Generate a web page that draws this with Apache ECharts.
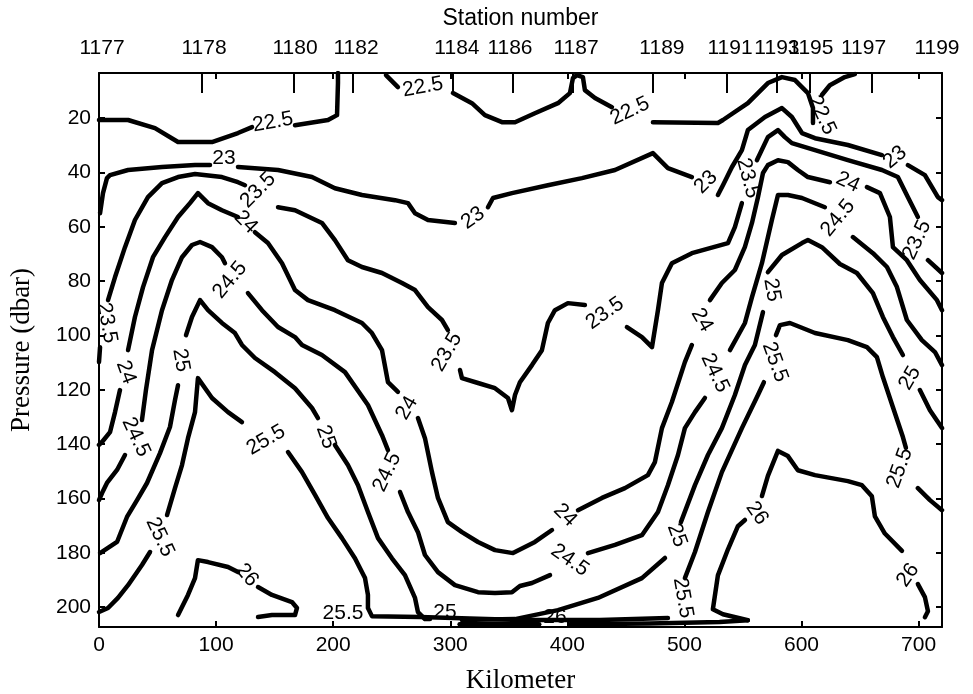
<!DOCTYPE html>
<html><head><meta charset="utf-8">
<script src="https://cdn.jsdelivr.net/npm/echarts@6/dist/echarts.min.js"></script>
<style>html,body{margin:0;padding:0;background:#fff}#chart{width:973px;height:694px}</style>
</head><body><div id="chart"></div>
<script>
// ---- axis data ----
const kmTicks = [0, 100, 200, 300, 400, 500, 600, 700];
const pressureTicks = [20, 40, 60, 80, 100, 120, 140, 160, 180, 200];
const stationNames = ['1177','1178','1180','1182','1184','1186','1187','1189','1191','1193','1195','1197','1199'];
const stationLabelKm = [2.6, 89.7, 167.4, 219.5, 305.7, 351, 407.4, 480.8, 539, 579, 608, 653, 715.7];
const stationTickKm = [0, 88, 166.5, 216.7, 302.3, 353.6, 405, 473.1, 536, 579, 607.2, 660.1, 720];

// ---- contour lines (km, dbar); each level is a list of segments ----
const c22_5 = [
  [[0,20.7],[24.8,20.7],[47.8,23.7],[67.5,28.8],[96.5,28.8],[118.7,25.5],[130.7,23.3]],
  [[167.4,22.6],[195.6,20.7],[203.3,18.9],[204.1,7.1],[204.1,3.4]],
  [[245.1,4.2],[255.3,8.6]],
  [[302.3,10.8],[318.5,14.5],[329.6,18.9],[344.2,21.5],[355.3,21.5],[372.3,18.2],[392,14.5],[402.2,10.8],[404.8,5.3],[408.2,4.2],[413.3,4.9],[415,9.7],[423.6,12.6],[438.1,16]],
  [[473.1,21.5],[528.6,21.8],[532.9,20.7],[554.2,14.5],[571.3,7.1],[583.3,4.9],[594.4,6],[605.5,10.8],[609.8,16.3],[609.8,21.8]],
  [[617.4,11.5],[624.2,7.9],[637,4.9],[645.6,3.8]]
];
const c23 = [
  [[0.9,55],[3.4,47.6],[6.8,42.1],[9.4,41],[24.8,39.1],[53.8,38],[82,37.3],[94.8,37.3]],
  [[118.7,38],[152.9,39.1],[181.9,41.7],[201.5,45.8],[224.6,48.3],[252.8,50.2],[263.9,51.3],[269.9,55],[281,57.5],[304,58.6]],
  [[332.2,52.8],[336.5,49.4],[352.7,47.6],[383.4,44.7],[412.5,42.1],[440.7,39.1],[473.1,32.9],[485.9,38.4],[506.4,41.7]],
  [[528.6,48.3],[532.9,44.7],[540.6,38],[549.1,31.8],[554.2,24.4],[568.8,19.6],[583.3,16.3],[591.8,19.6],[600.4,25.5],[611.5,27.4],[639.6,29.9],[668.7,33.6]],
  [[690.9,37.3],[705.4,41],[716.5,49.1],[720,50.2]]
];
const c23_5 = [
  [[0,109.8],[0.9,104.3]],
  [[7.7,87],[13.7,78.5],[22.2,67.5],[30.7,57.5],[41.8,49.1],[53.8,43.9],[67.5,41.7],[82,40.6],[105,41.7],[118.7,43.6],[124.7,44.7]],
  [[152.9,52.8],[167.4,53.9],[190.4,58.6],[201.5,64.9],[212.6,72.3],[224.6,74.8],[241.7,77],[258.8,80.7],[269.9,83.3],[281,89.6],[292.9,94.3],[298,98]],
  [[308.3,112.7],[310,115.7],[323.7,117.5],[338.2,119.4],[349.3,123],[352.7,127.5],[355.3,121.9],[359.5,117.2],[369.8,110.9],[378.3,105.4],[383.4,95.4],[389.4,90.7],[400.5,88.1],[415,88.8]],
  [[450.9,96.9],[463.7,100.6],[472.3,104.3],[477.4,90.7],[480.8,80.7],[489.3,73.4],[506.4,69.7],[537.2,66],[543.1,60.1],[549.1,51.3]],
  [[561.9,35.5],[571.3,27],[579.9,24.4],[585.8,27],[591.8,29.2],[611.5,31.8],[639.6,35.5],[668.7,39.1],[682.3,41.7],[690.9,49.1],[699.4,56.4]],
  [[708,72.3],[720,77]]
];
const c24 = [
  [[0,140.3],[2.6,139.2],[9.4,135.6],[13.7,128.2],[17.9,120.1]],
  [[24.8,105.4],[30.7,93.2],[37.6,82.2],[46.1,71.2],[56.4,63.8],[67.5,56.4],[77.7,51.3],[84.5,47.6],[93.1,51.3],[105,53.9],[118.7,56.4]],
  [[133.2,62],[144.3,66],[156.3,73.4],[167.4,83.3],[178.5,87],[201.5,90.7],[224.6,95.4],[233.1,99.1],[241.7,105.4],[246.8,117.2],[255.3,120.8]],
  [[272.4,130.4],[278.4,137.8],[284.4,150.3],[289.5,159.8],[298,168.7],[310,172.4],[323.7,176],[338.2,179],[353.6,180.1],[372.3,176],[386.9,171.6]],
  [[409.1,164.3],[429.6,159.8],[449.2,156.2],[468.8,151.4],[474.8,146.6],[480.8,134.1],[489.3,124.5],[500.4,109.8],[506.4,103.5]],
  [[521.8,87],[532,80.7],[543.1,75.9],[551.6,67.5],[557.7,58.6],[562.8,49.1],[567.1,40.2],[571.3,37.3],[579.9,35.5],[588.4,36.2],[596.9,39.1],[605.5,41.7],[624.3,43.6]],
  [[655.9,45.4],[667,47.6],[675.5,56.4],[678.1,67.5],[690,72.3],[701.1,79.6],[715.7,87],[720,90.7]]
];
const c24_5 = [
  [[0,160.6],[2.6,158],[6.8,154.3],[15.4,149.5],[22.2,144]],
  [[36.7,131.1],[40.1,120.1],[45.3,105.4],[53.8,90.7],[62.3,79.6],[70.9,71.2],[79.4,66.7],[86.3,65.6],[96.5,67.5],[105,71.2],[107.6,73.4]],
  [[127.2,84.4],[139.2,90.7],[152.9,96.9],[167.4,100.6],[173.4,103.5],[190.4,107.2],[210.1,113.5],[229.7,125.6],[241.7,136.7],[246.8,142.2]],
  [[257.1,157.6],[263.9,165],[272.4,172.4],[278.4,180.8],[289.5,187.1],[304,191.9],[323.7,194.5],[338.2,194.8],[352.7,194.5],[359.5,192.2],[369.8,191.1],[385.2,188.2]],
  [[417.6,180.1],[440.7,177.1],[463.7,173.5],[477.4,165],[485.9,155.1],[494.5,144],[500.4,134.1],[509,128.2],[517.5,123]],
  [[538.9,105.4],[551.7,95.4],[557.7,85.9],[566.2,73.4],[574.7,57.5],[579.9,48.3],[588.4,48.3],[600.4,49.4],[620,52.8]],
  [[643.9,63.8],[661,69.7],[673,74.8],[681.5,82.2],[690,94.3],[702.8,101.7],[714,106.1],[720,110.9]]
];
const c25 = [
  [[0.9,180.1],[15.4,176],[23.9,166.8],[32.5,160.6],[41,154.3],[52.1,143.3],[60.6,133.7],[64.9,123.8],[67.5,118.3]],
  [[74.3,99.9],[79.4,93.2],[86.3,87],[93.1,90.7],[105,95.4],[116.1,99.1],[122.1,103.5],[133.2,108.3],[150.3,113.5],[167.4,119.4],[181.9,126.7],[187,130.4]],
  [[201.5,140.3],[212.6,147.7],[221.2,155.1],[229.7,165],[238.3,174.6],[250.2,182],[261.3,188.2],[269.9,196.6],[272.4,201.8],[278.4,204.4],[282.7,204.4]],
  [[310,204.7],[355.3,204.4],[392,201.1],[426.1,196.6],[463.7,189.3],[483.4,181.9]],
  [[497,168.7],[509,155.1],[520.1,144],[532,134.1],[543.1,121.9],[551.7,110.9],[560.2,103.5],[567.1,91.4]],
  [[571.3,76.7],[583.3,70.4],[600.4,66],[605.5,64.9],[617.4,67.5],[632.8,73.7],[647.3,77],[661,84.4],[669.5,93.2],[678.1,100.6],[686.6,107.2]],
  [[701.1,120.1],[709.7,127.5],[720,134.1]]
];
const c25_5 = [
  [[0,201.8],[7.7,200.3],[16.2,196.6],[24.8,191.9],[36.7,184.5],[43.6,179.7]],
  [[58.1,166.1],[64.9,156.2],[70.9,147.7],[76,137.8],[82,128.2],[84.5,115.7],[96.5,123],[110.2,128.2],[122.1,131.9]],
  [[161.4,142.9],[173.4,150.3],[184.5,158.7],[195.6,167.2],[207.5,174.6],[218.6,182],[227.2,189.3],[229.7,195.5],[229.7,200.3],[233.1,203.3],[274.1,203.6],[359.5,204.7],[427.9,204.7],[485.9,204]],
  [[500.4,189.3],[509,179.7],[520.1,165],[532,150.3],[549.1,134.1],[562.8,121.9],[567.9,117.2]],
  [[578.2,99.9],[581.6,96.2],[590.1,95.4],[611.5,99.1],[639.6,101.7],[655.9,104.3],[664.4,108],[669.5,115.3],[678.1,126.4],[686.6,137.4],[689.2,141.4]],
  [[699.4,156.2],[709.7,160.6],[720,164.3]]
];
const c26 = [
  [[67.5,202.9],[76,195.5],[82,189.3],[84.5,182.7],[93.1,183.4],[110.2,185.2],[118.7,187.1]],
  [[135.8,192.6],[147.7,195.5],[164.8,198.1],[169.1,200.3],[167.4,202.9],[147.7,202.9],[135.8,203.6]],
  [[308,206.3],[376,206.3]],
  [[402,206.3],[470,206],[530,205.5],[554.2,204.8]],
  [[554.2,204.8],[532.9,202.6],[524.3,200.8],[528.6,188.3],[537.2,178.7],[545.7,170.2],[551.7,167.9]],
  [[566.2,159.1],[571.3,151.7],[579.9,142.5],[588.4,144.4],[596.9,149.6],[611.5,151.4],[639.6,153.6],[651.6,155.1],[660.1,159.2],[662.7,166.6],[671.2,172.9],[685.8,179.3]],
  [[699.4,191.5],[705.4,196.3],[708,201.5],[705.4,203.7]]
];

// ---- contour labels ----
const labelText = ['22.5','22.5','22.5','22.5','23','23','23','23','23.5','23.5','23.5','23.5','23.5','23.5','24','24','24','24','24','24','24.5','24.5','24.5','24.5','24.5','24.5','25','25','25','25','25','25','25.5','25.5','25.5','25.5','25.5','25.5','26','26','26','26'];
const labelKm = [148.6,276.7,453.5,617.4, 106.8,319.4,518.4,679.8, 6.8,135.8,297.2,432.1,554.2,698.6, 23.1,125.5,263,398,515,639.6, 31.6,111.9,246,402.2,526.1,631.1, 70,193.9,295.5,493.6,574.7,692.6, 52.1,142.6,208.4,498.7,577.3,684, 126.4,389.4,561.9,690.9];
const labelP = [21.5,8.6,17.4,18.9, 34.7,56.8,43.6,34.4, 95.4,46.5,106.1,91.8,42.1,64.9, 113.5,58.3,126.7,166.1,94.3,43.6, 137.4,79.6,150.3,182.7,113.8,56.8, 109.1,137.4,201.8,173.5,83.3,115.7, 174.2,138.5,202.2,196.6,109.8,148.8, 188.2,203.6,165.4,188.2];
const labelRot = [10,10,25,-65, 0,35,45,40, -80,45,60,35,-75,65, -70,-45,60,-45,-60,-25, -65,50,65,-35,-65,50, -80,-70,0,-70,-80,60, -65,30,0,-80,-70,70, -50,0,-55,55];

const levels = [c22_5, c23, c23_5, c24, c24_5, c25, c25_5, c26];

const series = [];
levels.forEach(function (lv) {
  lv.forEach(function (seg) {
    series.push({
      type: 'line', data: seg, showSymbol: false, symbol: 'none', silent: true,
      lineStyle: { color: '#000', width: 4.5, cap: 'round', join: 'round' },
      xAxisIndex: 0, yAxisIndex: 0, animation: false, z: 2
    });
  });
});
series.push({
  type: 'scatter', symbolSize: 0, silent: true, animation: false, z: 5,
  itemStyle: { color: '#000', opacity: 1 },
  data: labelText.map(function (t, i) {
    return { name: t, value: [labelKm[i], labelP[i]], label: { rotate: labelRot[i] } };
  }),
  label: {
    show: true, position: 'inside', formatter: function (p) { return p.name; },
    color: '#000', opacity: 1, fontSize: 21, fontFamily: 'Liberation Sans, Arial, sans-serif',
    textBorderWidth: 0, textBorderColor: 'transparent'
  }
});

const axisLineStyle = { show: true, onZero: false, lineStyle: { color: '#000', width: 2 } };
const sans = 'Liberation Sans, Arial, sans-serif';
const serif = 'Liberation Serif, Times New Roman, serif';

const chart = echarts.init(document.getElementById('chart'), null, { renderer: 'canvas' });
chart.setOption({
  backgroundColor: '#fff',
  animation: false,
  grid: { left: 99, right: 31, top: 73, bottom: 67, containLabel: false, outerBoundsMode: 'none' },
  xAxis: [
    {
      type: 'value', position: 'bottom', min: 0, max: 720,
      axisLine: axisLineStyle,
      axisTick: { show: true, inside: true, length: 6, customValues: kmTicks, lineStyle: { color: '#000', width: 2 } },
      axisLabel: { customValues: kmTicks, color: '#000', fontSize: 21, fontFamily: sans, margin: 8 },
      splitLine: { show: false },
      name: 'Kilometer', nameLocation: 'middle', nameGap: 40,
      nameTextStyle: { fontFamily: serif, fontSize: 27, color: '#000' }
    },
    {
      type: 'value', position: 'top', min: 0, max: 720,
      axisLine: axisLineStyle,
      axisTick: { show: true, inside: true, length: 20, customValues: stationTickKm, lineStyle: { color: '#000', width: 2 } },
      axisLabel: {
        customValues: stationLabelKm, color: '#000', fontSize: 21, fontFamily: sans, margin: 14,
        formatter: function (v) {
          let best = 0, d = 1e9;
          stationLabelKm.forEach(function (k, i) { if (Math.abs(k - v) < d) { d = Math.abs(k - v); best = i; } });
          return stationNames[best];
        }
      },
      splitLine: { show: false },
      name: 'Station number', nameLocation: 'middle', nameGap: 43,
      nameTextStyle: { fontFamily: sans, fontSize: 23, color: '#000' }
    },
    {
      type: 'value', position: 'top', min: 0, max: 720,
      axisLine: { show: false },
      axisTick: { show: true, inside: true, length: 6, customValues: kmTicks, lineStyle: { color: '#000', width: 2 } },
      axisLabel: { show: false }, splitLine: { show: false }
    }
  ],
  yAxis: [
    {
      type: 'value', position: 'left', inverse: true, min: 3.4, max: 207.3,
      axisLine: axisLineStyle,
      axisTick: { show: true, inside: true, length: 6, customValues: pressureTicks, lineStyle: { color: '#000', width: 2 } },
      axisLabel: { customValues: pressureTicks, color: '#000', fontSize: 21, fontFamily: sans, margin: 8 },
      splitLine: { show: false },
      name: 'Pressure (dbar)', nameLocation: 'middle', nameGap: 64, nameRotate: 90,
      nameTextStyle: { fontFamily: serif, fontSize: 27, color: '#000' }
    },
    {
      type: 'value', position: 'right', inverse: true, min: 3.4, max: 207.3,
      axisLine: axisLineStyle,
      axisTick: { show: true, inside: true, length: 6, customValues: pressureTicks, lineStyle: { color: '#000', width: 2 } },
      axisLabel: { show: false }, splitLine: { show: false }
    }
  ],
  series: series
});
</script>
</body></html>
